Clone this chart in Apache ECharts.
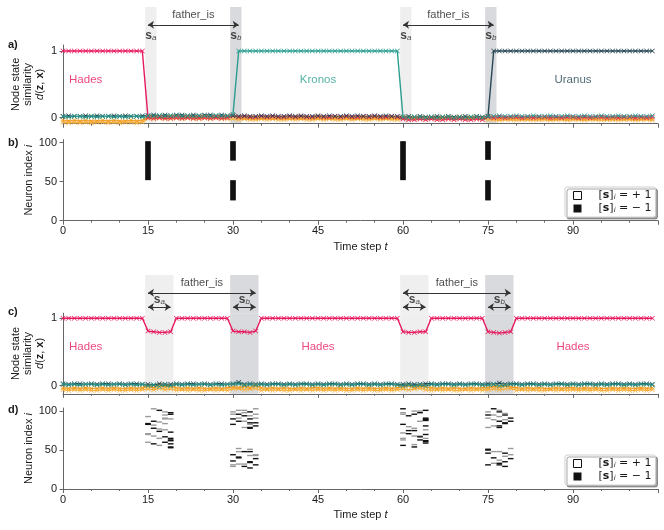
<!DOCTYPE html>
<html><head><meta charset="utf-8">
<script src="https://cdn.jsdelivr.net/npm/echarts@6/dist/echarts.min.js"></script>
<style>html,body{margin:0;padding:0;background:#fff}#c{width:664px;height:530px}</style>
</head><body><div id="c"></div><script>
// ---------- data ----------
const xTickLabels = [0, 15, 30, 45, 60, 75, 90];
const simTicks = [0, 1];
const neuronTicks = [0, 50, 100];

// panel a (node state similarity, one value per time step 0..104)
const hadesA = [
 1,1,1,1,1,1,1,1,1,1,1,1,1,1,1,
 0,-0.01,0,-0.01,-0.01,0,-0.01,0,-0.01,-0.01,0,-0.01,0,-0.01,0,
 0.03,0.01,0.02,0.01,0.01,0.02,0.01,0.02,0.01,0.01,0.02,0.01,0.02,0.01,0.01,
 0.02,0.01,0.01,0.02,0.01,0.02,0.01,0.01,0.02,0.01,0.02,0.01,0.01,0.02,0.01,
 -0.02,-0.03,-0.03,-0.02,-0.03,-0.02,-0.03,-0.03,-0.02,-0.03,-0.02,-0.03,-0.03,-0.02,-0.03,
 0.01,0,0.01,0,0.01,0.01,0,0.01,0,0.01,0.01,0,0.01,0,0.01,
 0.01,0,0.01,0,0.01,0.01,0,0.01,0,0.01,0.01,0,0.01,0,0.01];
const kronosA = [
 0.02,0.01,0.02,0.02,0.01,0.02,0.01,0.02,0.02,0.01,0.02,0.01,0.02,0.02,0.01,
 0.03,0.02,0.03,0.02,0.03,0.03,0.02,0.03,0.02,0.03,0.03,0.02,0.03,0.02,0.03,
 0.05,1,1,1,1,1,1,1,1,1,1,1,1,1,1,
 1,1,1,1,1,1,1,1,1,1,1,1,1,1,1,
 0.01,0,0.01,0.01,0,0.01,0,0.01,0.01,0,0.01,0,0.01,0.01,0,
 0.02,0.02,0.03,0.02,0.02,0.03,0.02,0.02,0.03,0.02,0.02,0.03,0.02,0.02,0.03,
 0.02,0.02,0.03,0.02,0.02,0.03,0.02,0.02,0.03,0.02,0.02,0.03,0.02,0.02,0.03];
const uranusA = [
 0.02,0.03,0.02,0.02,0.03,0.02,0.03,0.02,0.02,0.03,0.02,0.03,0.02,0.02,0.03,
 0.03,0.04,0.03,0.04,0.03,0.04,0.04,0.03,0.04,0.03,0.04,0.04,0.03,0.04,0.03,
 0.03,0.02,0.03,0.02,0.02,0.03,0.02,0.03,0.02,0.02,0.03,0.02,0.03,0.02,0.02,
 0.03,0.02,0.03,0.02,0.02,0.03,0.02,0.03,0.02,0.02,0.03,0.02,0.03,0.02,0.02,
 0.01,0.02,0.01,0.02,0.01,0.01,0.02,0.01,0.02,0.01,0.01,0.02,0.01,0.02,0.01,
 0.02,1,1,1,1,1,1,1,1,1,1,1,1,1,1,
 1,1,1,1,1,1,1,1,1,1,1,1,1,1,1];
const orangeA = [
 -0.04,-0.05,-0.04,-0.05,-0.04,-0.05,-0.05,-0.04,-0.05,-0.04,-0.05,-0.05,-0.04,-0.05,-0.04,
 0.01,0,0.01,0,0.01,0.01,0,0.01,0,0.01,0.01,0,0.01,0,0.01,
 0.02,0,-0.01,0,-0.01,-0.01,0,-0.01,0,-0.01,-0.01,0,-0.01,0,-0.01,
 0,-0.01,-0.01,0,-0.01,0,-0.01,-0.01,0,-0.01,0,-0.01,-0.01,0,-0.01,
 0.01,0,0,0.01,0,0.01,0,0,0.01,0,0.01,0,0,0.01,0,
 0.01,-0.01,-0.02,-0.01,-0.02,-0.01,-0.02,-0.02,-0.01,-0.02,-0.01,-0.02,-0.02,-0.01,-0.02,
 -0.01,-0.02,-0.02,-0.01,-0.02,-0.01,-0.02,-0.02,-0.01,-0.02,-0.01,-0.02,-0.02,-0.01,-0.02];
const yellowA = [
 -0.07,-0.08,-0.07,-0.08,-0.07,-0.08,-0.07,-0.07,-0.08,-0.07,-0.08,-0.07,-0.07,-0.08,-0.07,
 -0.01,-0.02,-0.01,-0.02,-0.02,-0.01,-0.02,-0.01,-0.02,-0.02,-0.01,-0.02,-0.01,-0.02,-0.02,
 -0.02,-0.03,-0.02,-0.03,-0.03,-0.02,-0.03,-0.02,-0.03,-0.03,-0.02,-0.03,-0.02,-0.03,-0.03,
 -0.02,-0.03,-0.02,-0.03,-0.03,-0.02,-0.03,-0.02,-0.03,-0.03,-0.02,-0.03,-0.02,-0.03,-0.03,
 -0.01,-0.02,-0.01,-0.02,-0.02,-0.01,-0.02,-0.01,-0.02,-0.02,-0.01,-0.02,-0.01,-0.02,-0.02,
 -0.03,-0.03,-0.04,-0.03,-0.03,-0.04,-0.03,-0.03,-0.04,-0.03,-0.03,-0.04,-0.03,-0.03,-0.04,
 -0.03,-0.03,-0.04,-0.03,-0.03,-0.04,-0.03,-0.03,-0.04,-0.03,-0.03,-0.04,-0.03,-0.03,-0.04];

// panel c
const hadesC = [
 1,1,1,1,1,1,1,1,1,1,1,1,1,1,1,
 0.81,0.80,0.79,0.79,0.80,1,1,1,1,1,1,1,1,1,1,
 0.81,0.80,0.80,0.79,0.81,1,1,1,1,1,1,1,1,1,1,
 1,1,1,1,1,1,1,1,1,1,1,1,1,1,1,
 0.80,0.79,0.79,0.80,0.80,1,1,1,1,1,1,1,1,1,1,
 0.80,0.79,0.78,0.79,0.80,1,1,1,1,1,1,1,1,1,1,
 1,1,1,1,1,1,1,1,1,1,1,1,1,1,1];
const kronosC = [
 0.02,0.01,0.02,0.01,0.02,0.02,0.01,0.02,0.01,0.02,0.02,0.01,0.02,0.01,0.02,
 0,0.01,-0.01,0.01,0,0.02,0.01,0.02,0.01,0.02,0.02,0.01,0.02,0.01,0.02,
 0.02,0.03,0.01,0.02,0.01,0.02,0.01,0.02,0.02,0.01,0.02,0.01,0.02,0.02,0.01,
 0.02,0.01,0.02,0.02,0.01,0.02,0.01,0.02,0.02,0.01,0.02,0.01,0.02,0.02,0.01,
 0,0.01,0,0.01,0,0.02,0.01,0.02,0.02,0.01,0.02,0.01,0.02,0.02,0.01,
 0.01,0.02,0,0.01,0.02,0.02,0.01,0.02,0.02,0.01,0.02,0.01,0.02,0.02,0.01,
 0.02,0.01,0.02,0.02,0.01,0.02,0.01,0.02,0.02,0.01,0.02,0.01,0.02,0.02,0.01];
const uranusC = [
 0.03,0.02,0.03,0.03,0.02,0.03,0.02,0.03,0.03,0.02,0.03,0.02,0.03,0.03,0.02,
 0.02,0.01,0.03,0.02,0.02,0.03,0.02,0.03,0.03,0.02,0.03,0.02,0.03,0.03,0.02,
 0.03,0.05,0.02,0.03,0.02,0.03,0.02,0.03,0.03,0.02,0.03,0.02,0.03,0.03,0.02,
 0.03,0.02,0.03,0.03,0.02,0.03,0.02,0.03,0.03,0.02,0.03,0.02,0.03,0.03,0.02,
 0.02,0.03,0.02,0.02,0.03,0.03,0.02,0.03,0.03,0.02,0.03,0.02,0.03,0.03,0.02,
 0.03,0.02,0.04,0.02,0.03,0.03,0.02,0.03,0.03,0.02,0.03,0.02,0.03,0.03,0.02,
 0.03,0.02,0.03,0.03,0.02,0.03,0.02,0.03,0.03,0.02,0.03,0.02,0.03,0.03,0.02];
const orangeC = [
 -0.03,-0.04,-0.03,-0.04,-0.03,-0.04,-0.04,-0.03,-0.04,-0.03,-0.04,-0.04,-0.03,-0.04,-0.03,
 -0.01,-0.03,0,-0.02,-0.01,-0.03,-0.04,-0.03,-0.04,-0.03,-0.04,-0.04,-0.03,-0.04,-0.03,
 -0.02,-0.03,-0.01,-0.03,0,-0.03,-0.04,-0.03,-0.04,-0.03,-0.04,-0.04,-0.03,-0.04,-0.03,
 -0.03,-0.04,-0.03,-0.04,-0.03,-0.04,-0.04,-0.03,-0.04,-0.03,-0.04,-0.04,-0.03,-0.04,-0.03,
 -0.02,0,-0.03,-0.01,-0.02,-0.03,-0.04,-0.03,-0.04,-0.03,-0.04,-0.04,-0.03,-0.04,-0.03,
 -0.03,-0.01,-0.02,0,-0.02,-0.03,-0.04,-0.03,-0.04,-0.03,-0.04,-0.04,-0.03,-0.04,-0.03,
 -0.03,-0.04,-0.03,-0.04,-0.03,-0.04,-0.04,-0.03,-0.04,-0.03,-0.04,-0.04,-0.03,-0.04,-0.03];
const yellowC = [
 -0.06,-0.07,-0.06,-0.07,-0.06,-0.07,-0.07,-0.06,-0.07,-0.06,-0.07,-0.07,-0.06,-0.07,-0.06,
 -0.05,-0.06,-0.04,-0.06,-0.05,-0.07,-0.06,-0.07,-0.06,-0.07,-0.07,-0.06,-0.07,-0.06,-0.07,
 -0.05,-0.04,-0.06,-0.05,-0.04,-0.07,-0.06,-0.07,-0.06,-0.07,-0.07,-0.06,-0.07,-0.06,-0.07,
 -0.06,-0.07,-0.06,-0.07,-0.06,-0.07,-0.07,-0.06,-0.07,-0.06,-0.07,-0.07,-0.06,-0.07,-0.06,
 -0.05,-0.06,-0.05,-0.04,-0.06,-0.07,-0.06,-0.07,-0.06,-0.07,-0.07,-0.06,-0.07,-0.06,-0.07,
 -0.06,-0.05,-0.06,-0.05,-0.04,-0.07,-0.06,-0.07,-0.06,-0.07,-0.07,-0.06,-0.07,-0.06,-0.07,
 -0.06,-0.07,-0.06,-0.07,-0.06,-0.07,-0.07,-0.06,-0.07,-0.06,-0.07,-0.07,-0.06,-0.07,-0.06];

// node labels: [name, t, y]
const nodeLabelsA = [['Hades', 4, 0.565], ['Kronos', 45, 0.565], ['Uranus', 90, 0.565]];
const nodeLabelsC = [['Hades', 4, 0.58], ['Hades', 45, 0.58], ['Hades', 90, 0.58]];

// shaded windows: [start, end, kind]  kind 0 = s_a, 1 = s_b
const shadesA = [[14.5, 16.5, 0], [29.5, 31.5, 1], [59.5, 61.5, 0], [74.5, 76.5, 1]];
const shadesC = [[14.5, 19.5, 0], [29.5, 34.5, 1], [59.5, 64.5, 0], [74.5, 79.5, 1]];

// header arrows: [from, to, level]
const arrowsA = [[15, 31, 0.53], [60, 76, 0.53]];
const arrowsC = [[15, 34, 0.535], [15, 19, 0.16], [30, 34, 0.16], [60, 79, 0.535], [60, 64, 0.16], [75, 79, 0.16]];
// header texts: [text, t, level]
const headTextA = [['father_is', 23, 0.79], ['sa', 15.5, 0.25], ['sb', 30.5, 0.25],
                   ['father_is', 68, 0.79], ['sa', 60.5, 0.25], ['sb', 75.5, 0.25]];
const headTextC = [['father_is', 24.5, 0.79], ['sa', 17, 0.35], ['sb', 32, 0.35],
                   ['father_is', 69.5, 0.79], ['sa', 62, 0.35], ['sb', 77, 0.35]];

// panel b: flipped neuron blocks [t, lowIndex, highIndex]
const blockT  = [15, 30, 30, 60, 75, 75];
const blockLo = [52, 77, 26, 52, 78, 26];
const blockHi = [102, 102, 52, 102, 102, 52];

// panel d: individual flipped neurons [t, index]
const dPos = [
 [16,103],[18,99],[15,93],[18,95],[18,91],[18,90],[19,90],[17,86],[18,84],[16,82],[17,77],[18,76],[15,71],[15,70],[16,68],[17,65],[15,60],[17,56],
 [34,103],[31,101],[32,101],[30,99],[32,98],[30,96],[34,96],[33,94],[31,91],[34,91],[32,87],[33,83],[32,79],
 [31,52],[33,51],[31,48],[34,44],[33,43],[34,43],[31,32],[32,32],[30,31],[30,29],
 [62,100],[63,100],[60,98],[60,96],[63,87],[61,80],[62,78],[64,76],[60,72],[62,68],[63,68],[60,65],[64,65],[60,63],[62,57],
 [77,101],[75,99],[78,97],[76,95],[77,93],[75,91],[76,89],[78,89],[76,81],[75,79],
 [79,52],[76,48],[77,48],[79,44],[78,42],[77,37],[76,33]];
const dNeg = [
 [17,101],[19,98],[19,96],[16,87],[15,83],[15,84],[16,78],[17,74],[19,73],[18,67],[19,65],[19,62],[19,63],[18,60],[16,58],[19,58],[19,54],[19,53],
 [33,99],[31,96],[32,94],[30,90],[33,90],[31,87],[33,85],[34,85],[30,83],[34,81],[33,79],[33,78],
 [32,48],[33,48],[30,44],[31,40],[31,41],[34,39],[30,36],[33,34],[33,35],[34,31],[32,29],[33,27],
 [60,103],[64,101],[63,98],[62,96],[61,94],[64,91],[64,88],[64,89],[64,90],[60,83],[64,81],[61,75],[62,75],[61,71],[64,70],[63,67],[63,63],[64,61],[64,62],[64,59],[60,56],[62,54],
 [76,103],[77,99],[75,95],[78,95],[79,91],[77,87],[79,87],[78,84],[78,85],[77,81],[77,79],
 [75,50],[75,51],[75,46],[78,46],[76,40],[79,39],[78,35],[77,33],[75,31],[77,31],[78,29]];

// ---------- style ----------
const FONT = '"Liberation Sans", Arial, Helvetica, sans-serif';
const AX = '#666';
const TXT = '#1a1a1a';
const COL = {Hades: '#E6195E', Kronos: '#2A9D8F', Uranus: '#264653', orange: '#F29A1F', yellow: '#F5B548'};
const SHADE = ['#EFEFEF', '#D9DADD'];
const XMARK = 'path://M1,0L5,4L9,0L10,1L6,5L10,9L9,10L5,6L1,10L0,9L4,5L0,1Z';
const L = 63, R = 6;

const grids = [
  {top: 7, height: 38},       // 0 header a
  {top: 45, height: 78.7},    // 1 panel a
  {top: 139.6, height: 81.1}, // 2 panel b
  {top: 275, height: 38.2},   // 3 header c
  {top: 313.2, height: 80.6}, // 4 panel c
  {top: 408, height: 81}      // 5 panel d
].map(g => Object.assign({left: L, right: R, outerBoundsMode: 'none', containLabel: false}, g));

const richMath = {
  it: {fontStyle: 'italic', fontSize: 11, lineHeight: 12, fontFamily: FONT, color: TXT},
  b: {fontWeight: 'bold', fontSize: 11, lineHeight: 12, fontFamily: FONT, color: TXT}
};

function xAxisFor(i, kind) {
  const base = {type: 'value', gridIndex: i, min: 0, max: 105, interval: 15,
    splitLine: {show: false}, minorSplitLine: {show: false}};
  if (kind === 'hidden') return Object.assign(base, {show: false});
  return Object.assign(base, {
    axisLine: {show: true, onZero: false, lineStyle: {color: AX, width: 1}},
    axisTick: {show: true, length: 4, lineStyle: {color: AX}},
    minorTick: {show: true, splitNumber: 3, length: 2, lineStyle: {color: AX}},
    axisLabel: {show: kind === 'labels', fontSize: 11, color: TXT, margin: 5, fontFamily: FONT,
      customValues: xTickLabels},
    name: kind === 'labels' ? 'Time step {it|t}' : '',
    nameLocation: 'middle', nameGap: 20, nameMoveOverlap: false,
    nameTextStyle: {fontSize: 11, color: TXT, fontFamily: FONT, rich: richMath}
  });
}
function yAxisFor(i, kind) {
  if (kind === 'hidden') return {type: 'value', gridIndex: i, min: 0, max: 1, show: false};
  const sim = kind === 'sim';
  const ext = i === 1 ? [-0.09, 1.09] : [-0.12, 1.075];
  return {type: 'value', gridIndex: i,
    min: sim ? ext[0] : 0, max: sim ? ext[1] : 104,
    splitLine: {show: false},
    axisLine: {show: true, onZero: false, lineStyle: {color: AX, width: 1}},
    axisTick: {show: true, length: 3.5, lineStyle: {color: AX}, customValues: sim ? simTicks : neuronTicks},
    axisLabel: {fontSize: 11, color: TXT, margin: 6, fontFamily: FONT, customValues: sim ? simTicks : neuronTicks},
    name: sim ? 'Node state\nsimilarity\n{it|d}({b|z}, {b|x})' : 'Neuron index {it|i}',
    nameLocation: 'middle', nameRotate: 90, nameGap: sim ? 17 : 28, nameMoveOverlap: false,
    nameTextStyle: {fontSize: 11, lineHeight: 12, color: TXT, fontFamily: FONT, rich: richMath}
  };
}

const xAxes = [xAxisFor(0, 'hidden'), xAxisFor(1, 'ticks'), xAxisFor(2, 'labels'),
               xAxisFor(3, 'hidden'), xAxisFor(4, 'ticks'), xAxisFor(5, 'labels')];
const yAxes = [yAxisFor(0, 'hidden'), yAxisFor(1, 'sim'), yAxisFor(2, 'neuron'),
               yAxisFor(3, 'hidden'), yAxisFor(4, 'sim'), yAxisFor(5, 'neuron')];

function shadeSeries(idx, shades) {
  return {type: 'line', xAxisIndex: idx, yAxisIndex: idx, data: [], silent: true, z: 0,
    markArea: {silent: true, z: 0, animation: false,
      data: shades.map(s => [{xAxis: s[0], itemStyle: {color: SHADE[s[2]]}}, {xAxis: s[1]}])}};
}
function lineSeries(idx, name, vals, color, z) {
  return {type: 'line', name: name, xAxisIndex: idx, yAxisIndex: idx, z: z,
    data: vals.map((v, t) => [t, v]),
    symbol: XMARK, symbolSize: 5, showSymbol: true,
    lineStyle: {color: color, width: 1.4}, itemStyle: {color: color},
    silent: true, animation: false};
}
const headRich = {
  s: {fontWeight: 'bold', fontSize: 12, fontFamily: FONT, color: TXT, lineHeight: 12, verticalAlign: 'top'},
  sub: {fontStyle: 'italic', fontSize: 8, fontFamily: FONT, color: TXT, lineHeight: 8, verticalAlign: 'bottom'}
};
function headerSeries(idx, texts, arrows) {
  return {type: 'scatter', xAxisIndex: idx, yAxisIndex: idx, symbolSize: 1, z: 5, silent: true,
    itemStyle: {color: 'transparent'},
    data: texts.map(h => ({value: [h[1], h[2]],
      label: {formatter: h[0] === 'sa' ? '{s|s}{sub|a}' : h[0] === 'sb' ? '{s|s}{sub|b}' : h[0]}})),
    label: {show: true, position: 'inside', fontSize: 11, fontFamily: FONT, color: TXT, rich: headRich},
    markLine: {silent: true, animation: false, symbol: ['arrow', 'arrow'], symbolSize: 6,
      lineStyle: {color: '#333', width: 1, type: 'solid'}, itemStyle: {color: '#333'},
      label: {show: false}, emphasis: {disabled: true},
      data: arrows.map(a => [{coord: [a[0], a[2]]}, {coord: [a[1], a[2]]}])}
  };
}
function nodeLabelSeries(idx, labels) {
  return {type: 'scatter', xAxisIndex: idx, yAxisIndex: idx, symbolSize: 1, z: 6, silent: true,
    itemStyle: {color: 'transparent'},
    data: labels.map(l => ({value: [l[1], l[2]], label: {formatter: l[0], color: COL[l[0]]}})),
    label: {show: true, position: 'inside', fontSize: 11.5, fontFamily: FONT}};
}
function blockSeries() {
  return {type: 'custom', name: 'neg', xAxisIndex: 2, yAxisIndex: 2, silent: true, z: 3,
    itemStyle: {color: '#111'},
    encode: {x: 0, y: [1, 2]},
    data: blockT.map((t, k) => [t, blockLo[k], blockHi[k]]),
    renderItem: (params, api) => {
      const p0 = api.coord([api.value(0) - 0.5, api.value(2)]);
      const p1 = api.coord([api.value(0) + 0.5, api.value(1)]);
      return {type: 'rect', shape: {x: p0[0], y: p0[1], width: p1[0] - p0[0], height: p1[1] - p0[1]},
        style: {fill: '#111'}};
    }};
}
function cellSeries(name, cells, fill) {
  return {type: 'custom', name: name, xAxisIndex: 5, yAxisIndex: 5, silent: true, z: name === 'neg' ? 4 : 3,
    itemStyle: {color: fill}, encode: {x: 0, y: 1},
    data: cells,
    renderItem: (params, api) => {
      const p0 = api.coord([api.value(0) - 0.5, api.value(1) + 0.9]);
      const p1 = api.coord([api.value(0) + 0.5, api.value(1) - 0.9]);
      return {type: 'rect', shape: {x: p0[0], y: p0[1], width: p1[0] - p0[0], height: p1[1] - p0[1]},
        style: {fill: fill}};
    }};
}
function legendAt(top) {
  return {show: true, left: 565, top: top, orient: 'vertical', selectedMode: false,
    itemWidth: 8, itemHeight: 8, itemGap: 2, padding: [3, 4, 3, 8],
    backgroundColor: '#fff', borderColor: '#cfcfcf', borderWidth: 1, borderRadius: 2,
    shadowColor: 'rgba(0,0,0,0.35)', shadowBlur: 0, shadowOffsetX: 2, shadowOffsetY: 2,
    data: [{name: 'pos', icon: 'rect', itemStyle: {color: '#fff', borderColor: '#111', borderWidth: 1}},
           {name: 'neg', icon: 'rect', itemStyle: {color: '#111'}}],
    formatter: n => n === 'pos' ? '[{b|s}]{sub|i} = + 1' : '[{b|s}]{sub|i} = − 1',
    textStyle: {fontSize: 11, color: TXT, fontFamily: '"DejaVu Sans", sans-serif', padding: [0, 0, 0, 12],
      rich: {b: {fontWeight: 'bold', fontSize: 11, fontFamily: '"DejaVu Sans", sans-serif', color: TXT},
             sub: {fontStyle: 'italic', fontSize: 7, fontFamily: '"DejaVu Sans", sans-serif', color: TXT, verticalAlign: 'bottom', lineHeight: 8}}}
  };
}
const panelTitles = [['a)', 39], ['b)', 137], ['c)', 306], ['d)', 404]];

const option = {
  animation: false,
  backgroundColor: '#fff',
  title: panelTitles.map(p => ({text: p[0], left: 8, top: p[1], padding: 0,
    textStyle: {fontSize: 11, fontWeight: 'bold', color: TXT, fontFamily: FONT}})),
  legend: [legendAt(187), legendAt(455)],
  grid: grids,
  xAxis: xAxes,
  yAxis: yAxes,
  series: [
    shadeSeries(0, shadesA), shadeSeries(1, shadesA), shadeSeries(3, shadesC), shadeSeries(4, shadesC),
    headerSeries(0, headTextA, arrowsA), headerSeries(3, headTextC, arrowsC),
    lineSeries(1, 'yellowA', yellowA, COL.yellow, 2),
    lineSeries(1, 'orangeA', orangeA, COL.orange, 2),
    lineSeries(1, 'HadesA', hadesA, COL.Hades, 2),
    lineSeries(1, 'UranusA', uranusA, COL.Uranus, 2),
    lineSeries(1, 'KronosA', kronosA, COL.Kronos, 2),
    nodeLabelSeries(1, nodeLabelsA),
    blockSeries(),
    lineSeries(4, 'yellowC', yellowC, COL.yellow, 2),
    lineSeries(4, 'orangeC', orangeC, COL.orange, 2),
    lineSeries(4, 'UranusC', uranusC, COL.Uranus, 2),
    lineSeries(4, 'KronosC', kronosC, COL.Kronos, 2),
    lineSeries(4, 'HadesC', hadesC, COL.Hades, 2),
    nodeLabelSeries(4, nodeLabelsC),
    cellSeries('pos', dPos, '#9a9a9a'),
    cellSeries('neg', dNeg, '#111')
  ]
};
const chart = echarts.init(document.getElementById('c'), null, {renderer: 'canvas'});
chart.setOption(option);
</script></body></html>
